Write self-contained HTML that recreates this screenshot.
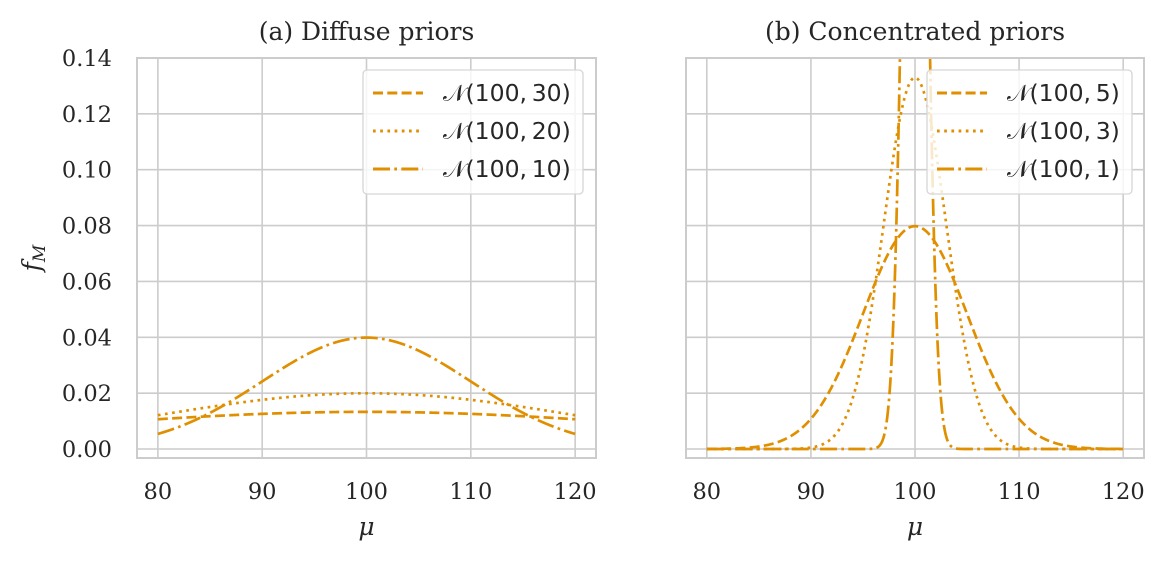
<!DOCTYPE html>
<html><head><meta charset="utf-8"><style>
body{margin:0;background:#fff}
svg text{font-family:"DejaVu Serif","Liberation Serif",serif;fill:#262626}
.tk{font-size:22.5px}
.lg{font-family:"DejaVu Sans","Liberation Sans",sans-serif;font-size:23.5px}
</style></head><body>
<svg id="s" width="1166" height="562" xmlns="http://www.w3.org/2000/svg"></svg>
<script>
const s=document.getElementById('s');const NS='http://www.w3.org/2000/svg';
function el(t,a,txt){const e=document.createElementNS(NS,t);for(const k in a)e.setAttribute(k,a[k]);if(txt!==undefined)e.textContent=txt;s.appendChild(e);return e;}
const C='#e08f00';
const T=58,B=458,y0=449,ys=391/0.14;
const Y=v=>y0-v*ys;
const dash=['10,4.3','2.7,4.5','17,4.3,2.7,4.3'];
function panel(L,R,title,sig,labs,showY,idx){
  const X=v=>L+(v-78)/44*(R-L);
  el('clipPath',{id:'c'+idx}).innerHTML=`<rect x="${L}" y="${T}" width="${R-L}" height="${B-T}"/>`;
  for(let v=80;v<=120;v+=10)el('line',{x1:X(v),x2:X(v),y1:T,y2:B,stroke:'#cccccc','stroke-width':1.6});
  for(let i=0;i<=7;i++){const y=Y(i*0.02);el('line',{x1:L,x2:R,y1:y,y2:y,stroke:'#cccccc','stroke-width':1.6});
    if(showY)el('text',{x:L-25,y:y+8,'text-anchor':'end',class:'tk'},(i*0.02).toFixed(2));}
  for(let v=80;v<=120;v+=10)el('text',{x:X(v),y:499,'text-anchor':'middle',class:'tk'},v);
  sig.forEach((sg,k)=>{let d='';for(let i=0;i<=2000;i++){const x=80+40*i/2000;const f=Math.exp(-0.5*((x-100)/sg)**2)/(sg*Math.sqrt(2*Math.PI));d+=(i?'L':'M')+X(x).toFixed(2)+','+Y(f).toFixed(2);}
    el('path',{d,fill:'none',stroke:C,'stroke-width':2.7,'stroke-dasharray':dash[k],'clip-path':`url(#c${idx})`});});
  el('rect',{x:L,y:T,width:R-L,height:B-T,fill:'none',stroke:'#cccccc','stroke-width':2});
  el('text',{x:(L+R)/2,y:40,'text-anchor':'middle','font-size':'25px'},title);
  el('text',{x:(L+R)/2,y:535,'text-anchor':'middle','font-size':'25px','font-style':'italic'},'μ');
  const lw=idx?205:220, lx=idx?927:363;
  el('rect',{x:lx,y:70,width:lw,height:124,rx:4,fill:'rgba(255,255,255,0.8)',stroke:'#d6d6d6','stroke-width':1.3});
  labs.forEach((t,k)=>{const y=93+k*38;el('line',{x1:lx+10,x2:lx+60,y1:y,y2:y,stroke:C,'stroke-width':3,'stroke-dasharray':dash[k]});
    el('text',{x:lx+80,y:y+8,class:'lg'},t);});
}
panel(137,596,'(a) Diffuse priors',[30,20,10],['𝒩(100,\u200930)','𝒩(100,\u200920)','𝒩(100,\u200910)'],true,0);
panel(686,1144,'(b) Concentrated priors',[5,3,1],['𝒩(100,\u20095)','𝒩(100,\u20093)','𝒩(100,\u20091)'],false,1);
const t=el('text',{x:0,y:0,'font-size':'25px','font-style':'italic',transform:'translate(40,258) rotate(-90)','text-anchor':'middle'});
t.innerHTML='f<tspan font-size="17px" dy="5">M</tspan>';
</script>
</body></html>
